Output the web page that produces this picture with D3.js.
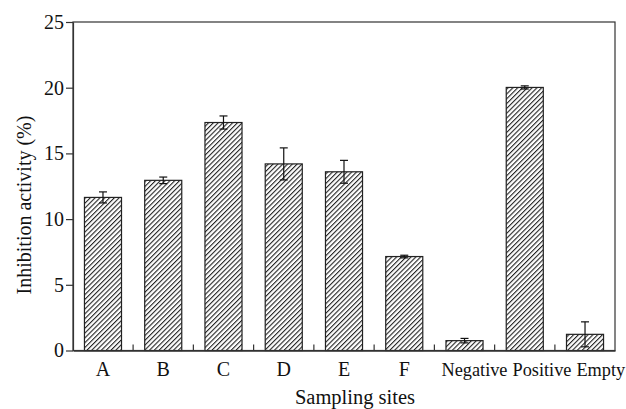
<!DOCTYPE html>
<html>
<head>
<meta charset="UTF-8">
<style>
  body { margin: 0; background: #fff; }
  text { font-family: "Liberation Serif", "Times New Roman", serif; fill: #111; }
</style>
</head>
<body>
<svg width="626" height="409"></svg>
<script src="https://d3js.org/d3.v7.min.js"></script>
<script>
var sites = ["A", "B", "C", "D", "E", "F", "Negative", "Positive", "Empty"];
var inhibition = [11.65, 12.95, 17.35, 14.2, 13.6, 7.15, 0.75, 20.02, 1.23];
var errors = [0.42, 0.25, 0.5, 1.22, 0.87, 0.1, 0.17, 0.12, 0.95];
var yTicks = [0, 5, 10, 15, 20, 25];

var svg = d3.select("svg"),
    margin = {top: 22, right: 11, bottom: 58.5, left: 73},
    width = 626 - margin.left - margin.right,
    height = 409 - margin.top - margin.bottom,
    g = svg.append("g").attr("transform", "translate(" + margin.left + "," + margin.top + ")");

var data = sites.map(function (s, i) {
    return {site: s, value: inhibition[i], err: errors[i]};
});

var x = d3.scaleBand().domain(sites).range([0, width]).paddingInner(0.385).paddingOuter(0.19);
var y = d3.scaleLinear().domain([0, 25]).range([height, 0]);

// hatch pattern
var hs = 3.4;
var pat = svg.append("defs").append("pattern")
    .attr("id", "hatch")
    .attr("patternUnits", "userSpaceOnUse")
    .attr("width", hs).attr("height", hs)
    .attr("patternTransform", "rotate(45)");
pat.append("rect").attr("width", hs).attr("height", hs).attr("fill", "#fff");
pat.append("line").attr("x1", 0).attr("y1", 0).attr("x2", 0).attr("y2", hs)
    .attr("stroke", "#222").attr("stroke-width", 2.2);

// frame
g.append("rect").attr("width", width).attr("height", height)
    .attr("fill", "none").attr("stroke", "#333").attr("stroke-width", 1.2);

// bars
g.selectAll(".bar").data(data).enter().append("rect")
    .attr("class", "bar")
    .attr("x", function (d) { return x(d.site); })
    .attr("y", function (d) { return y(d.value); })
    .attr("width", x.bandwidth())
    .attr("height", function (d) { return height - y(d.value); })
    .attr("fill", "url(#hatch)")
    .attr("stroke", "#222").attr("stroke-width", 1.2);

// error bars
var eb = g.selectAll(".err").data(data).enter().append("g").attr("class", "err")
    .attr("stroke", "#111").attr("stroke-width", 1.2);
eb.append("line")
    .attr("x1", function (d) { return x(d.site) + x.bandwidth() / 2; })
    .attr("x2", function (d) { return x(d.site) + x.bandwidth() / 2; })
    .attr("y1", function (d) { return y(d.value + d.err); })
    .attr("y2", function (d) { return y(d.value - d.err); });
eb.append("line")
    .attr("x1", function (d) { return x(d.site) + x.bandwidth() / 2 - 4; })
    .attr("x2", function (d) { return x(d.site) + x.bandwidth() / 2 + 4; })
    .attr("y1", function (d) { return y(d.value + d.err); })
    .attr("y2", function (d) { return y(d.value + d.err); });
eb.append("line")
    .attr("x1", function (d) { return x(d.site) + x.bandwidth() / 2 - 4; })
    .attr("x2", function (d) { return x(d.site) + x.bandwidth() / 2 + 4; })
    .attr("y1", function (d) { return y(d.value - d.err); })
    .attr("y2", function (d) { return y(d.value - d.err); });

// y axis
var yAxis = g.append("g")
    .call(d3.axisLeft(y).tickValues(yTicks).tickSize(7).tickSizeOuter(0).tickPadding(2));
yAxis.select(".domain").attr("stroke", "#333").attr("stroke-width", 1.2);
yAxis.selectAll(".tick line").attr("stroke", "#333").attr("stroke-width", 1.2);
yAxis.selectAll("text").style("font-size", "20px").attr("fill", "#111")
    .style("font-family", "'Liberation Serif', serif");

// x axis: labels at band centres, ticks between bands pointing up
var xAxis = g.append("g").attr("transform", "translate(0," + height + ")")
    .call(d3.axisBottom(x).tickSize(0));
xAxis.select(".domain").attr("stroke", "#333").attr("stroke-width", 1.5);
xAxis.selectAll("text").attr("fill", "#111")
    .attr("y", 25.5).attr("dy", 0)
    .style("font-family", "'Liberation Serif', serif")
    .style("font-size", function (d) { return d.length > 1 ? "18.3px" : "20px"; });

// the long control labels run on as one line, word after word
var cursor = null;
xAxis.selectAll(".tick").each(function (d) {
    if (d.length < 2) return;
    var t = d3.select(this).select("text");
    var cx = x(d) + x.bandwidth() / 2;
    if (cursor === null) cursor = x(d) - 4.5;
    t.attr("text-anchor", "start").attr("x", cursor - cx);
    cursor += t.node().getComputedTextLength() + 5;
});

var step = x.step();
g.selectAll(".xsep").data(sites.slice(1)).enter().append("line")
    .attr("x1", function (d) { return x(d) - step * x.paddingInner() / 2; })
    .attr("x2", function (d) { return x(d) - step * x.paddingInner() / 2; })
    .attr("y1", height).attr("y2", height - 6)
    .attr("stroke", "#333").attr("stroke-width", 1.2);

// axis titles
svg.append("text")
    .attr("transform", "translate(31,205) rotate(-90)")
    .attr("text-anchor", "middle")
    .style("font-size", "20px")
    .text("Inhibition activity (%)");
svg.append("text")
    .attr("x", 355).attr("y", 404)
    .attr("text-anchor", "middle")
    .style("font-size", "20.5px")
    .text("Sampling sites");
</script>
</body>
</html>
